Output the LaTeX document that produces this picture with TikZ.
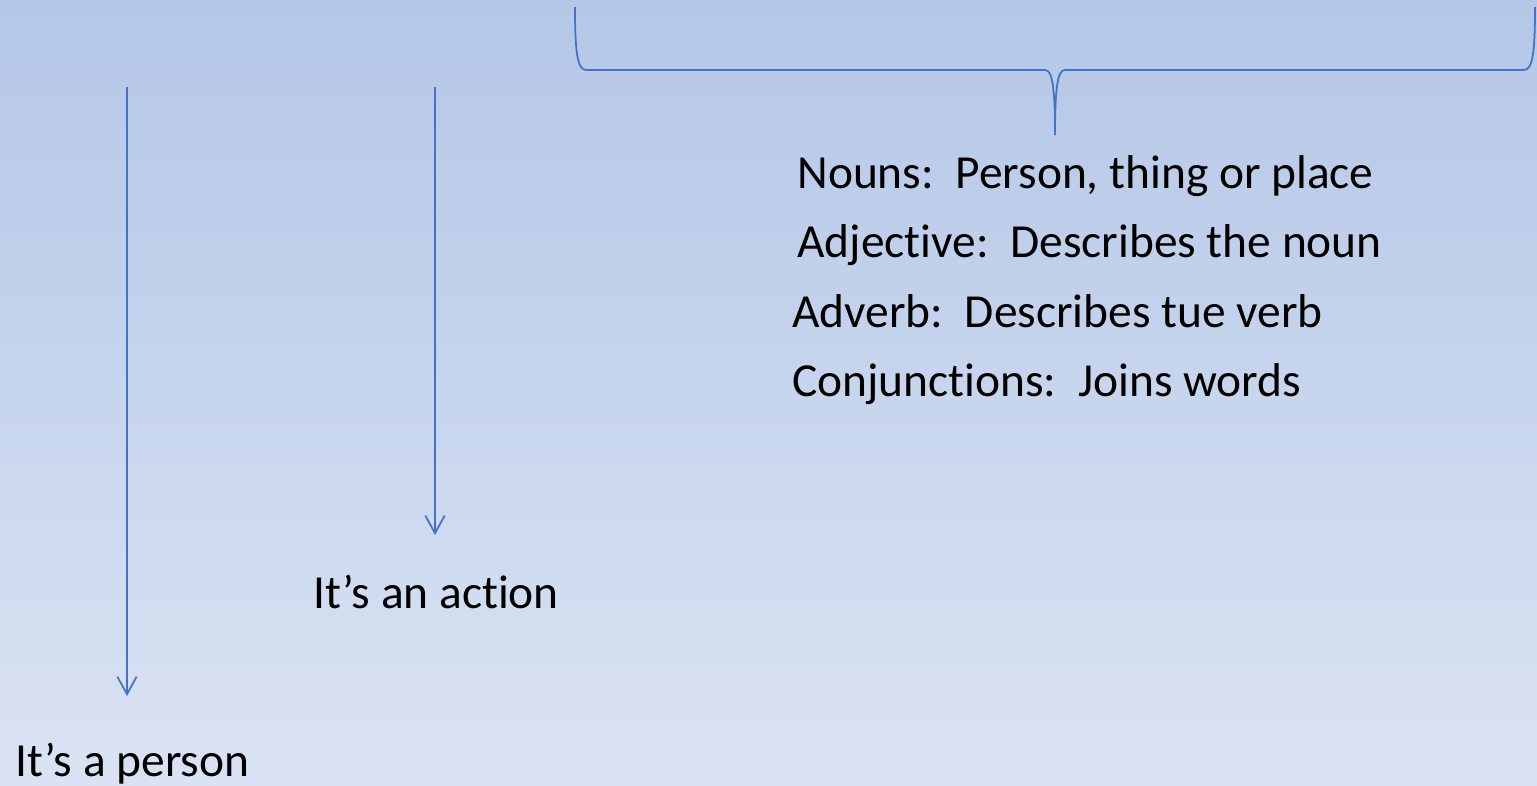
\documentclass[tikz,border=0pt]{standalone}
\usepackage{fontspec}
\setmainfont{Carlito}[Ligatures={NoCommon}]
\usepackage{tikz}
\usetikzlibrary{arrows.meta}
\definecolor{linkblue}{RGB}{68,114,196}
\definecolor{bgtop}{RGB}{180,199,231}
\definecolor{bgbottom}{RGB}{218,227,243}
\tikzset{>={Straight Barb[length=10pt,width=11pt]},
  down/.style={line width=1pt,linkblue,->},
  word/.style={anchor=base west,inner sep=0pt,font=\fontsize{27}{33}\selectfont}}

\begin{document}
\begin{tikzpicture}[x=0.02cm,y=-0.02cm]
      \shade[top color=bgtop,bottom color=bgbottom] (0,0) rectangle (1537,785);
      \useasboundingbox (0,0) rectangle (1537,785);
        % brace over the word classes
        \draw[line width=1pt,linkblue] (575,7) .. controls (575,50) and (577,70) .. (586,70)
            -- (1045,70) .. controls (1052,70) and (1055,85) .. (1055,135)
            .. controls (1055,85) and (1058,70) .. (1065,70)
            -- (1524,70) .. controls (1533,70) and (1535,50) .. (1535,7);
      \coordinate (p1) at (127,87);
      \coordinate (q1) at (127,696);
      \coordinate (p2) at (435,87);
      \coordinate (q2) at (435,535);
      \draw[down] (p1)--(q1);
      \draw[down] (p2)--(q2);
      \node[word] at (15, 776)   (person) {It’s a person};
      \node[word] at (313, 608)   (action) {It’s an action};
      \node[word] at (797, 188)   (nouns) {Nouns:\ \ Person, thing or place};
      \node[word] at (797, 257)   (adj) {Adjective:\ \ Describes the noun};
      \node[word] at (792, 327)   (adv) {Adverb:\ \ Describes tue verb};
      \node[word] at (792, 396)   (conj) {Conjunctions:\ \ Joins words};
       \end{tikzpicture}
\end{document}
